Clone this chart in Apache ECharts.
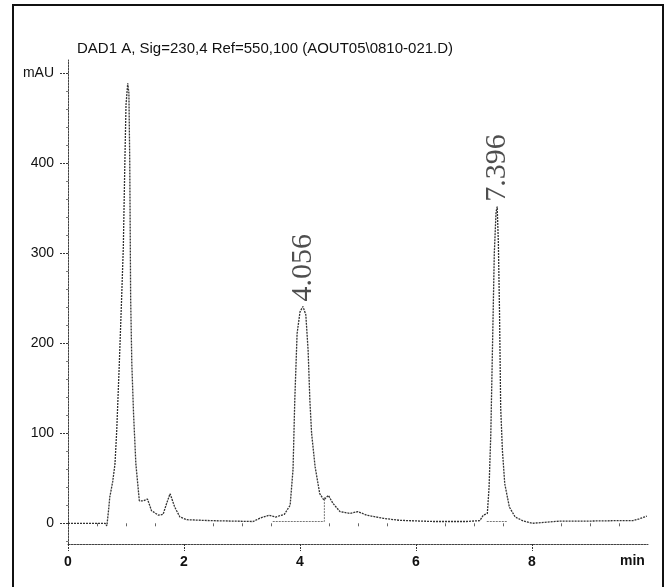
<!DOCTYPE html>
<html>
<head>
<meta charset="utf-8">
<script src="https://cdn.jsdelivr.net/npm/echarts@6/dist/echarts.min.js"></script>
<style>
html,body{margin:0;padding:0;background:#fff;}
#c{width:669px;height:587px;}
</style>
</head>
<body>
<div id="c"></div>
<script>
// Chromatogram trace: retention time (min) and absorbance (mAU)
var times = [0, 0.3, 0.64, 0.67, 0.70, 0.72, 0.77, 0.81, 0.84, 0.885, 0.925, 0.954, 0.98, 1.0, 1.03, 1.05, 1.065, 1.08, 1.10, 1.13, 1.17, 1.23, 1.30, 1.37, 1.44, 1.56, 1.64, 1.70, 1.76, 1.84, 1.93, 2.05, 2.45, 3.19, 3.32, 3.47, 3.58, 3.73, 3.83, 3.88, 3.91, 3.95, 4.0, 4.05, 4.10, 4.14, 4.17, 4.20, 4.26, 4.34, 4.41, 4.49, 4.57, 4.69, 4.86, 5.0, 5.15, 5.44, 5.72, 6.3, 6.87, 7.10, 7.16, 7.23, 7.26, 7.29, 7.32, 7.35, 7.38, 7.40, 7.42, 7.44, 7.46, 7.49, 7.53, 7.61, 7.71, 7.85, 8.0, 8.5, 9.0, 9.5, 9.74, 9.85, 9.98];
var mAU = [0, 0, 0, -3, 15, 29, 46, 66, 103, 178, 251, 307, 400, 465, 489, 478, 400, 251, 178, 122, 66, 25, 25, 27, 14, 9, 10, 22, 33, 18, 7, 4, 3, 2, 6, 9, 7, 10, 20, 60, 137, 211, 235, 241, 232, 192, 137, 100, 63, 33, 26, 31, 22, 13, 11, 13, 9, 5.5, 3.3, 2, 2, 3, 9, 11, 40, 100, 200, 300, 346, 352, 312, 235, 129, 81, 44, 18, 7, 2.6, 0, 2.5, 2.5, 3, 3, 5, 8];

// Integration baselines
var base1Times = [3.53, 4.42, 4.42];
var base1Vals = [2, 2, 29];
var base2Times = [7.22, 7.57];
var base2Vals = [2, 2];

// Peak retention-time annotations
var peakTimes = [4.056, 7.396];
var peakHeights = [241, 352];
var peakLabels = ['4.056', '7.396'];

// Axis ticks
var xLabelValues = [0, 2, 4, 6, 8];
var xMinorValues = [0.5, 1, 1.5, 2.5, 3, 3.5, 4.5, 5, 5.5, 6.5, 7, 7.5, 8.5, 9, 9.5];
var yLabelValues = [0, 100, 200, 300, 400, 500];
var yMinorValues = [-20, 20, 40, 60, 80, 120, 140, 160, 180, 220, 240, 260, 280, 320, 340, 360, 380, 420, 440, 460, 480];

var titleText = 'DAD1 A, Sig=230,4 Ref=550,100 (AOUT05\\0810-021.D)';

function pairs(a, b) { return a.map(function (v, i) { return [v, b[i]]; }); }

var FONT = 'Liberation Sans';
var chart = echarts.init(document.getElementById('c'), null, {renderer: 'canvas'});
chart.setOption({
  backgroundColor: '#ffffff',
  animation: false,
  title: {
    text: titleText, left: 72, top: 36,
    textStyle: {fontFamily: FONT, fontSize: 15, fontWeight: 'normal', color: '#111'}
  },
  grid: {left: 68, right: 21, top: 60, bottom: 43},
  xAxis: [{
    type: 'value', min: 0, max: 10,
    axisLine: {show: true, onZero: false, lineStyle: {color: '#444', type: [2, 1], width: 1}},
    axisTick: {show: true, customValues: xLabelValues, length: 7, lineStyle: {color: '#333', type: [2, 1]}},
    axisLabel: {show: true, customValues: xLabelValues, margin: 11, fontFamily: FONT, fontSize: 14, fontWeight: 'bold', color: '#111'},
    splitLine: {show: false}
  }, {
    type: 'value', min: 0, max: 10, position: 'bottom',
    axisLine: {show: false},
    axisTick: {show: true, customValues: xMinorValues, length: 3, lineStyle: {color: '#666'}},
    axisLabel: {show: false},
    splitLine: {show: false}
  }],
  yAxis: [{
    type: 'value', min: -23, max: 515,
    axisLine: {show: true, onZero: false, lineStyle: {color: '#444', type: [2, 1], width: 1}},
    axisTick: {show: true, customValues: yLabelValues, length: 9, lineStyle: {color: '#333', type: [2, 1]}},
    axisLabel: {show: true, customValues: yLabelValues, margin: 14, fontFamily: FONT, fontSize: 14, color: '#111',
      formatter: function (v) { return v === 500 ? 'mAU' : String(v); }},
    splitLine: {show: false}
  }, {
    type: 'value', min: -23, max: 515, position: 'left',
    axisLine: {show: false},
    axisTick: {show: true, customValues: yMinorValues, length: 2, lineStyle: {color: '#777'}},
    axisLabel: {show: false},
    splitLine: {show: false}
  }],
  series: [{
    type: 'line', data: pairs(times, mAU), showSymbol: false, symbol: 'none',
    lineStyle: {color: '#333', width: 1.3, type: [2, 1]}, z: 5
  }, {
    type: 'line', data: pairs(base1Times, base1Vals), showSymbol: false, symbol: 'none',
    lineStyle: {color: '#777', width: 1, type: [2, 1]}
  }, {
    type: 'line', data: pairs(base2Times, base2Vals), showSymbol: false, symbol: 'none',
    lineStyle: {color: '#777', width: 1, type: [2, 1]}
  }, {
    type: 'scatter', symbolSize: 0,
    data: peakTimes.map(function (t, i) { return {value: [t, peakHeights[i]], name: peakLabels[i]}; }),
    label: {show: true, position: 'top', distance: 5, rotate: 90, align: 'left', verticalAlign: 'middle',
      formatter: function (p) { return p.name; },
      fontFamily: 'Liberation Serif', fontSize: 30, color: '#222'}
  }],
  graphic: [
    {type: 'line', shape: {x1: 13, y1: 5, x2: 13, y2: 600}, style: {stroke: '#111', lineWidth: 2}},
    {type: 'line', shape: {x1: 12, y1: 5, x2: 664, y2: 5}, style: {stroke: '#111', lineWidth: 2}},
    {type: 'line', shape: {x1: 663, y1: 5, x2: 663, y2: 600}, style: {stroke: '#111', lineWidth: 2}},
    {type: 'text', left: 620, top: 554, style: {text: 'min', fontFamily: FONT, fontSize: 14, fontWeight: 'bold', fill: '#111'}}
  ]
});
</script>
</body>
</html>
